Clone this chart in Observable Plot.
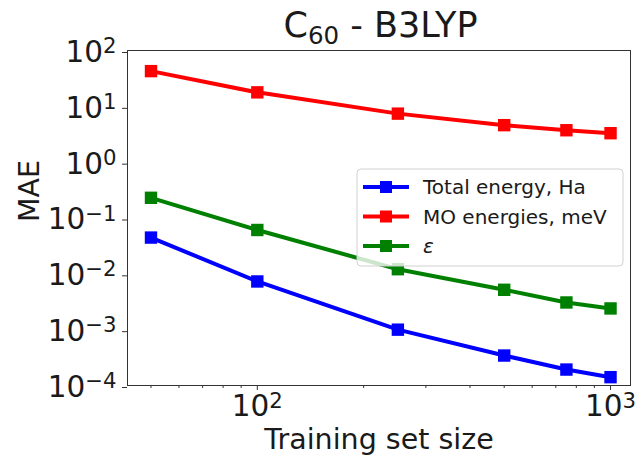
<!DOCTYPE html>
<html>
<head>
<meta charset="utf-8">
<script src="https://cdn.jsdelivr.net/npm/d3@7"></script>
<script src="https://cdn.jsdelivr.net/npm/@observablehq/plot@0.6"></script>
<style>
  body { margin: 0; background: #fff; }
  svg { display: block; }
</style>
</head>
<body>
<div id="chart"></div>
<script>
// Learning curves: mean absolute error vs. training set size (log-log)
const sizes = [50, 100, 250, 500, 750, 1000];
const totalEnergy = [0.0446, 0.0073, 0.0010, 0.000344, 0.000193, 0.000141];
const moEnergies = [42.7, 17.8, 7.4, 4.6, 3.73, 3.3];
const epsilon = [0.23, 0.061, 0.0121, 0.00518, 0.00307, 0.0024];

const seriesNames = ["Total energy, Ha", "MO energies, meV", "ε"];
const seriesColors = ["#0000ff", "#ff0000", "#008000"];
const seriesValues = [totalEnergy, moEnergies, epsilon];

const xMajorTicks = [100, 1000];
const xMinorTicks = [50, 60, 70, 80, 90, 200, 300, 400, 500, 600, 700, 800, 900];
const yTicks = [1e-4, 1e-3, 1e-2, 1e-1, 1, 10, 100];

const titleMain = "C";
const titleSub = "60";
const titleRest = " - B3LYP";
const xLabel = "Training set size";
const yLabel = "MAE";

// long-format table built from the arrays above
const rows = seriesNames.flatMap((name, i) =>
  sizes.map((s, j) => ({ size: s, value: seriesValues[i][j], series: name }))
);

const expFormat = d => "10^" + Math.round(Math.log10(d));
const FONT = "DejaVu Sans, Liberation Sans, sans-serif";
const INK = "#1a1a1a";

const chart = Plot.plot({
  width: 636,
  height: 458,
  marginLeft: 127,
  marginRight: 6,
  marginTop: 50,
  marginBottom: 73,
  style: { fontFamily: FONT, background: "white", color: INK },
  x: { type: "log", domain: [42.9, 1139] },
  y: { type: "log", domain: [1e-4, 100] },
  color: { domain: seriesNames, range: seriesColors },
  marks: [
    Plot.axisX({ ticks: xMinorTicks, tickSize: 3, tickFormat: () => "", label: null, stroke: "#333" }),
    Plot.axisX({ ticks: xMajorTicks, tickSize: 5, tickPadding: 5, tickFormat: expFormat,
                 fontSize: 29.5, label: null, stroke: "#333", fill: INK }),
    Plot.axisY({ ticks: yTicks, tickSize: 5, tickPadding: 6, tickFormat: expFormat,
                 fontSize: 29.5, label: null, stroke: "#333", fill: INK, dy: 2 }),
    Plot.line(rows, { x: "size", y: "value", z: "series", stroke: "series", strokeWidth: 4 }),
    Plot.dot(rows, { x: "size", y: "value", fill: "series", symbol: "square", r: 7 }),
    Plot.frame({ stroke: "#333", strokeWidth: 1 }),
    Plot.text([xLabel], { text: d => d, frameAnchor: "bottom", lineAnchor: "bottom",
                          dy: 63, fontSize: 28.5, fill: INK }),
    Plot.text([yLabel], { text: d => d, frameAnchor: "left", rotate: -90,
                          dx: -98, dy: 4, fontSize: 28.5, fill: INK })
  ]
});

document.getElementById("chart").appendChild(chart);

const svg = d3.select(chart);

// exponent notation for the tick labels: 10 with a raised power
svg.selectAll('g[aria-label$="tick label"] text').each(function () {
  const t = d3.select(this);
  const s = t.text();
  const m = s.match(/^10\^(-?\d+)$/);
  if (!m) return;
  const p = m[1].replace("-", "\u2212");
  t.text("10");
  t.append("tspan").attr("font-size", "0.72em").attr("dy", "-0.42em").text(p);
});

// title with subscript
const title = svg.append("text")
  .attr("x", (127 + 630) / 2 + 2)
  .attr("y", 37)
  .attr("text-anchor", "middle")
  .attr("font-family", FONT)
  .attr("font-size", 35)
  .attr("fill", INK);
title.append("tspan").text(titleMain);
title.append("tspan").attr("font-size", "0.7em").attr("dy", "0.3em").text(titleSub);
title.append("tspan").attr("dy", "-0.21em").text(titleRest);

// legend box (semi-transparent)
const lg = svg.append("g")
  .attr("font-family", FONT)
  .attr("font-size", 20)
  .attr("text-anchor", "start");
lg.append("rect")
  .attr("x", 357).attr("y", 169).attr("width", 266).attr("height", 97)
  .attr("rx", 4)
  .attr("fill", "white").attr("fill-opacity", 0.8)
  .attr("stroke", "#d0d0d0");
seriesNames.forEach((name, i) => {
  const cy = 187 + i * 29.5;
  lg.append("line")
    .attr("x1", 363).attr("x2", 409).attr("y1", cy).attr("y2", cy)
    .attr("stroke", seriesColors[i]).attr("stroke-width", 4);
  lg.append("rect")
    .attr("x", 386 - 6).attr("y", cy - 6).attr("width", 12).attr("height", 12)
    .attr("fill", seriesColors[i]);
  lg.append("text")
    .attr("x", 423).attr("y", cy).attr("dy", "0.35em")
    .attr("text-anchor", "start")
    .attr("fill", INK)
    .attr("font-style", i === 2 ? "italic" : "normal")
    .text(name);
});
</script>
</body>
</html>
